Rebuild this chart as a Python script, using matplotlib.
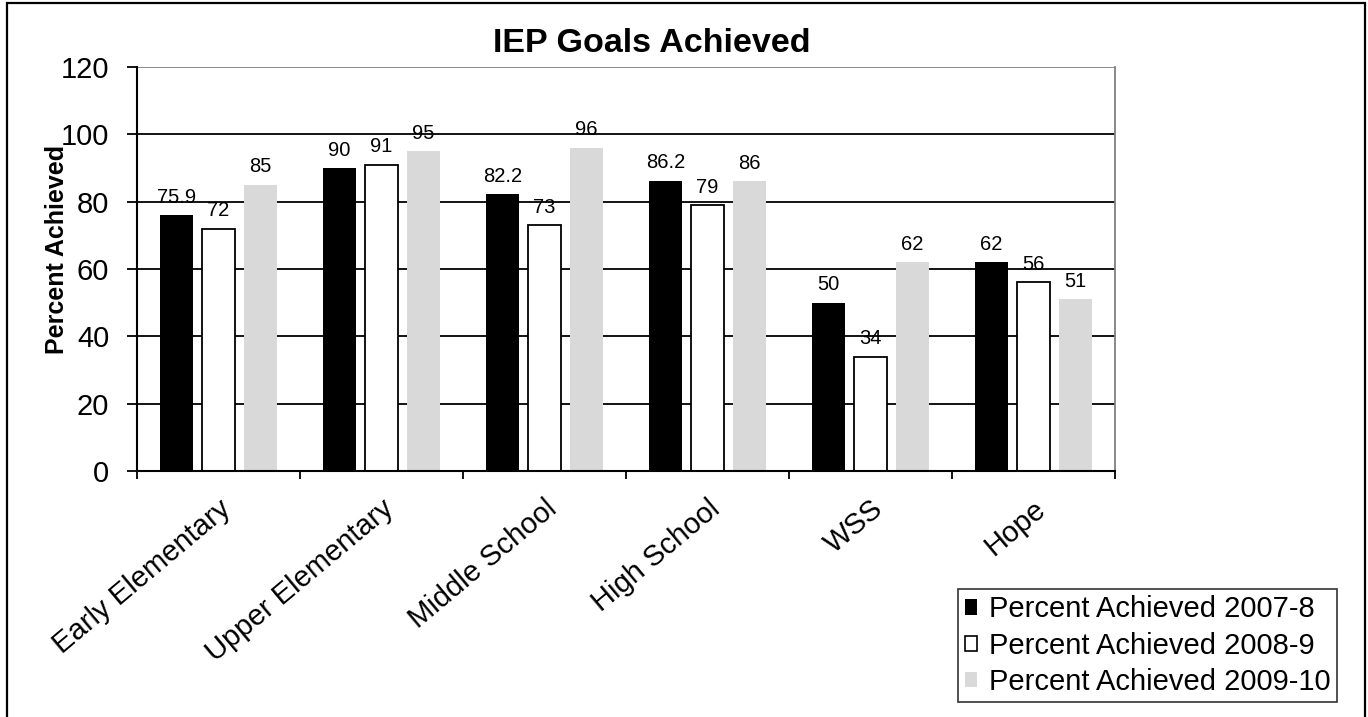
import matplotlib
matplotlib.use("Agg")
import matplotlib.pyplot as plt
from matplotlib.patches import Patch, Rectangle
import numpy as np

plt.rcParams['font.family'] = ['Liberation Sans', 'DejaVu Sans']

# Data
categories = ["Early Elementary", "Upper Elementary", "Middle School",
              "High School", "WSS", "Hope"]
series_labels = ["Percent Achieved 2007-8", "Percent Achieved 2008-9",
                 "Percent Achieved 2009-10"]
values_2007_8 = [75.9, 90, 82.2, 86.2, 50, 62]
values_2008_9 = [72, 91, 73, 79, 34, 56]
values_2009_10 = [85, 95, 96, 86, 62, 51]
value_text_2007_8 = ["75.9", "90", "82.2", "86.2", "50", "62"]
value_text_2008_9 = ["72", "91", "73", "79", "34", "56"]
value_text_2009_10 = ["85", "95", "96", "86", "62", "51"]
yticks = [0, 20, 40, 60, 80, 100, 120]

W, H = 1368, 717
fig = plt.figure(figsize=(W / 100, H / 100), dpi=100)
fig.patch.set_facecolor("white")

# outer frame around the whole chart (bottom edge runs off the canvas)
fig.add_artist(Rectangle((7 / W, -10 / H), (1365 - 7) / W, (710 + 14) / H,
                         transform=fig.transFigure, fill=False,
                         edgecolor="black", linewidth=1.6, clip_on=False))

ax = fig.add_axes([137 / W, 1 - 471 / H, (1115 - 137) / W, (471 - 67) / H])

x = np.arange(len(categories))
width = 0.2
offset = 0.257

styles = [
    dict(color="black", edgecolor="black", linewidth=0),
    dict(color="white", edgecolor="black", linewidth=1.3),
    dict(color="#d9d9d9", edgecolor="#d9d9d9", linewidth=0),
]
series = [values_2007_8, values_2008_9, values_2009_10]
texts = [value_text_2007_8, value_text_2008_9, value_text_2009_10]

for i, (vals, txts, st) in enumerate(zip(series, texts, styles)):
    pos = x + (i - 1) * offset
    bars = ax.bar(pos, vals, width, zorder=3, **st)
    for b, v, t in zip(bars, vals, txts):
        ax.annotate(t, (b.get_x() + b.get_width() / 2, v),
                    xytext=(0, 9), textcoords="offset points",
                    ha="center", va="baseline", fontsize=14.5, zorder=4)

ax.set_xlim(-0.5, len(categories) - 0.5)
ax.set_ylim(0, 120)
ax.set_yticks(yticks)
ax.set_yticklabels([str(t) for t in yticks], fontsize=21)

# gridlines
for t in yticks[1:-1]:
    ax.axhline(t, color="black", linewidth=1.3, zorder=1)
ax.axhline(120, color="#808080", linewidth=1.3, zorder=1)

ax.spines["top"].set_visible(False)
ax.spines["right"].set_color("#808080")
ax.spines["right"].set_linewidth(1.3)
ax.spines["left"].set_linewidth(1.5)
ax.spines["bottom"].set_linewidth(1.5)
ax.spines["left"].set_zorder(5)
ax.spines["bottom"].set_zorder(5)

ax.tick_params(axis="y", direction="out", length=7, width=1.3, pad=13)

# category boundaries carry the tick marks, centres carry the labels
ax.set_xticks(np.arange(len(categories) + 1) - 0.5)
ax.set_xticklabels([])
ax.set_xticks(x, minor=True)
ax.set_xticklabels(categories, minor=True, rotation=40, ha="right",
                   va="top", rotation_mode="anchor", fontsize=21)
ax.tick_params(axis="x", which="major", direction="out", length=6, width=1.3)
ax.tick_params(axis="x", which="minor", length=0, pad=17)

fig.text(652 / W, 1 - 52 / H, "IEP Goals Achieved", ha="center",
         va="baseline", fontsize=24.5, fontweight="bold")
fig.text(57 / W, 1 - 249 / H, "Percent Achieved", rotation=90,
         ha="center", va="center", fontsize=18, fontweight="bold")

handles = [
    Patch(facecolor="black", edgecolor="black", linewidth=0),
    Patch(facecolor="white", edgecolor="black", linewidth=1.2),
    Patch(facecolor="#d9d9d9", edgecolor="#d9d9d9", linewidth=0),
]
leg = fig.legend(handles, series_labels, loc="upper right",
                 bbox_to_anchor=(1337 / W, 1 - 589 / H),
                 bbox_transform=fig.transFigure, borderaxespad=0,
                 fontsize=21, frameon=True, fancybox=False,
                 handlelength=0.43, handleheight=0.43, handletextpad=0.4,
                 labelspacing=0.28, borderpad=0.22)
leg.get_frame().set_edgecolor("black")
leg.get_frame().set_linewidth(1.2)

fig.savefig("out.png", dpi=100, facecolor="white")
